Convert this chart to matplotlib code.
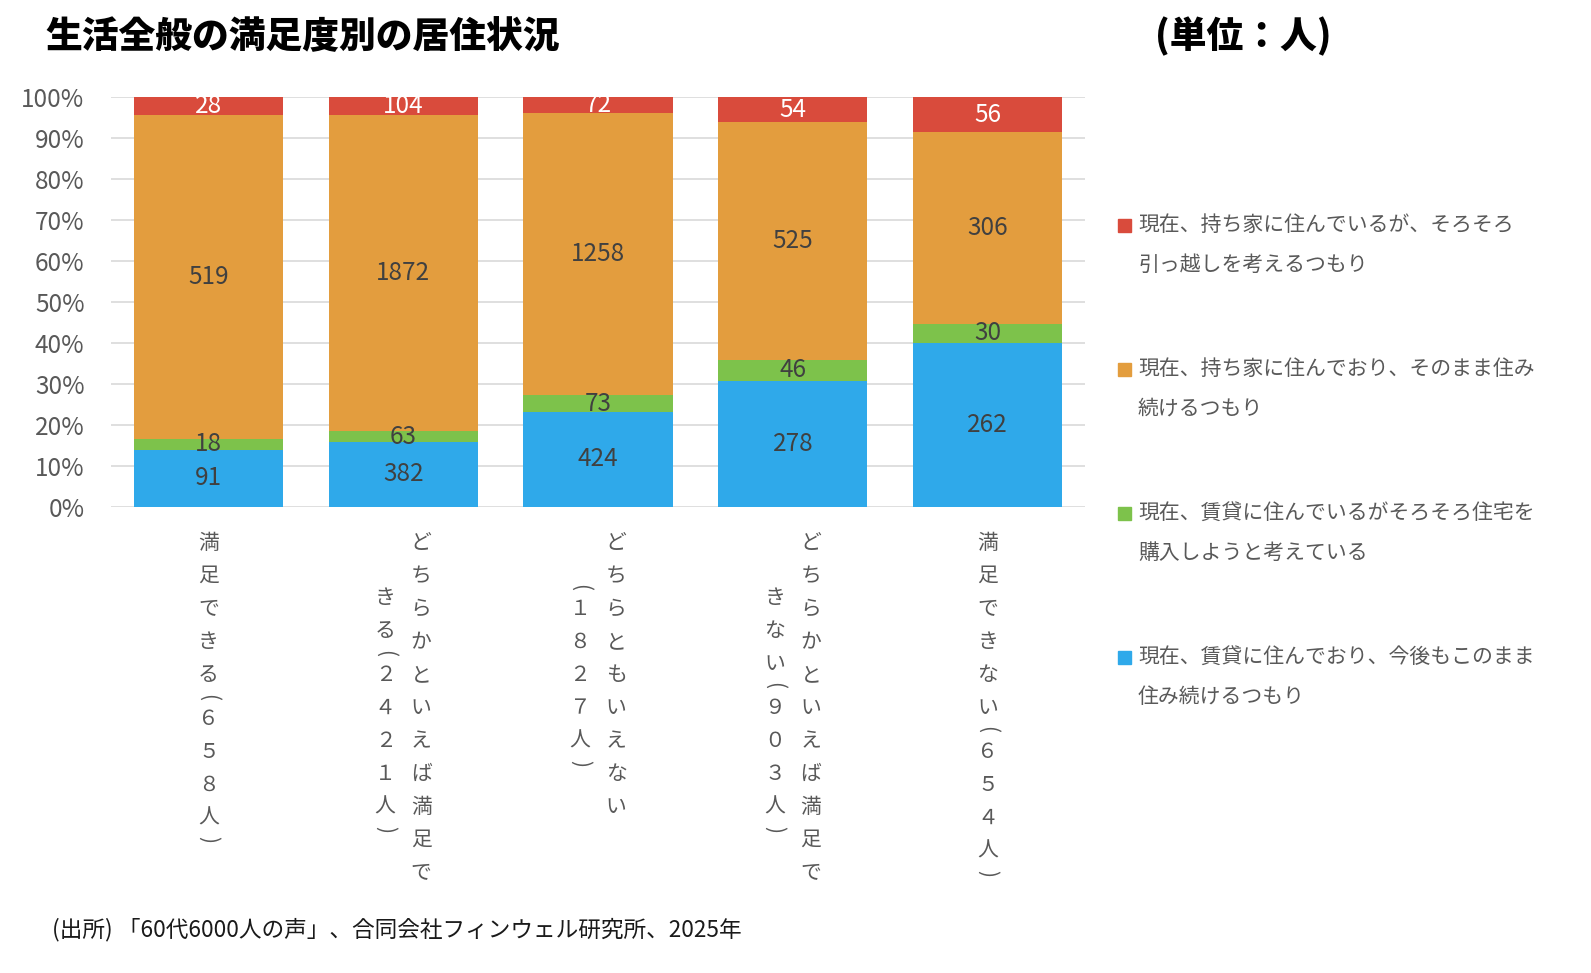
import matplotlib
matplotlib.use('Agg')
import numpy as np
import matplotlib.pyplot as plt
import matplotlib.transforms as mtransforms
from matplotlib.patches import Rectangle

plt.rcParams['font.family'] = ['Noto Sans CJK JP', 'DejaVu Sans']

# データ (単位：人)
categories = ['満足できる（６５８人）',
              'どちらかといえば満足で\nきる（２４２１人）',
              'どちらともいえない\n（１８２７人）',
              'どちらかといえば満足で\nきない（９０３人）',
              '満足できない（６５４人）']
series_names = ['現在、賃貸に住んでおり、今後もこのまま\n住み続けるつもり',
                '現在、賃貸に住んでいるがそろそろ住宅を\n購入しようと考えている',
                '現在、持ち家に住んでおり、そのまま住み\n続けるつもり',
                '現在、持ち家に住んでいるが、そろそろ\n引っ越しを考えるつもり']
rent_stay = [91, 382, 424, 278, 262]
rent_buy = [18, 63, 73, 46, 30]
own_stay = [519, 1872, 1258, 525, 306]
own_move = [28, 104, 72, 54, 56]
colors = ['#2FA9EA', '#7DC24B', '#E39D3E', '#D94B3C']
label_colors = ['#404040', '#404040', '#404040', 'white']

W, H = 1591, 973
fig = plt.figure(figsize=(W / 100, H / 100), dpi=100)
ax = fig.add_axes([111 / W, 1 - 506.7 / H, 974 / W, 409.4 / H])

data = np.array([rent_stay, rent_buy, own_stay, own_move], dtype=float)
share = data / data.sum(axis=0)
x = np.arange(len(categories))

bottom = np.zeros(len(categories))
for k in range(len(data)):
    bars = ax.bar(x, share[k], bottom=bottom, width=0.765, color=colors[k], zorder=2)
    ax.bar_label(bars, labels=[str(int(v)) for v in data[k]], label_type='center',
                 color=label_colors[k], fontsize=17.5)
    bottom += share[k]

ax.set_xlim(-0.5, len(categories) - 0.5)
ax.set_ylim(0, 1)
ticks = np.arange(0, 1.01, 0.1)
ax.set_yticks(ticks)
ax.set_yticklabels([f'{int(round(t * 100))}%' for t in ticks])
ax.set_xticks([])
ax.tick_params(axis='y', length=0, pad=19, labelsize=17.5, labelcolor='#595959')
ax.yaxis.grid(True, color='#D9D9D9', lw=1.2)
ax.set_axisbelow(True)
for s in ax.spines.values():
    s.set_visible(False)

# 縦書きの項目名
CH, BR = 33, 11
def adv(c):
    return BR if c in '（）' else CH

for i, lab in enumerate(categories):
    cols = lab.split('\n')
    lens = [sum(adv(c) for c in col) for col in cols]
    mid = 526.5 + max(lens) / 2
    n = len(cols)
    for j, col in enumerate(cols):
        dx = ((n - 1) / 2 - j) * 36
        tr = mtransforms.blended_transform_factory(ax.transData, fig.transFigure) + \
            mtransforms.ScaledTranslation(dx / 100, 0, fig.dpi_scale_trans)
        y = mid - lens[j] / 2
        for c in col:
            a = adv(c)
            yc = 1 - (y + a / 2) / H
            if c == '（':
                ax.text(i, yc, '(', transform=tr, rotation=-90, ha='center', va='center',
                        fontsize=15, color='#595959')
            elif c == '）':
                ax.text(i, yc, ')', transform=tr, rotation=-90, ha='center', va='center',
                        fontsize=15, color='#595959')
            else:
                ax.text(i, yc, c, transform=tr, ha='center', va='center',
                        fontsize=15, color='#595959')
            y += a

# 凡例
for idx, k in enumerate(range(len(series_names) - 1, -1, -1)):
    y1 = 225 + 144 * idx
    fig.patches.append(Rectangle((1118 / W, 1 - (y1 + 6.5) / H), 13 / W, 13 / H,
                                 transform=fig.transFigure, color=colors[k]))
    for m, line in enumerate(series_names[k].split('\n')):
        fig.text(1138 / W, 1 - (y1 + 40 * m) / H, line, ha='left', va='center',
                 fontsize=15, color='#595959')

fig.text(45 / W, 1 - 37 / H, '生活全般の満足度別の居住状況', ha='left', va='center',
         fontsize=26.5, weight='heavy', color='black')
fig.text(1155 / W, 1 - 37 / H, '(単位：人)', ha='left', va='center',
         fontsize=26.5, weight='heavy', color='black')
fig.text(52 / W, 1 - 930 / H, '(出所) 「60代6000人の声」、合同会社フィンウェル研究所、2025年',
         ha='left', va='center', fontsize=16.3, color='#1a1a1a')

fig.savefig('out.png', dpi=100)
